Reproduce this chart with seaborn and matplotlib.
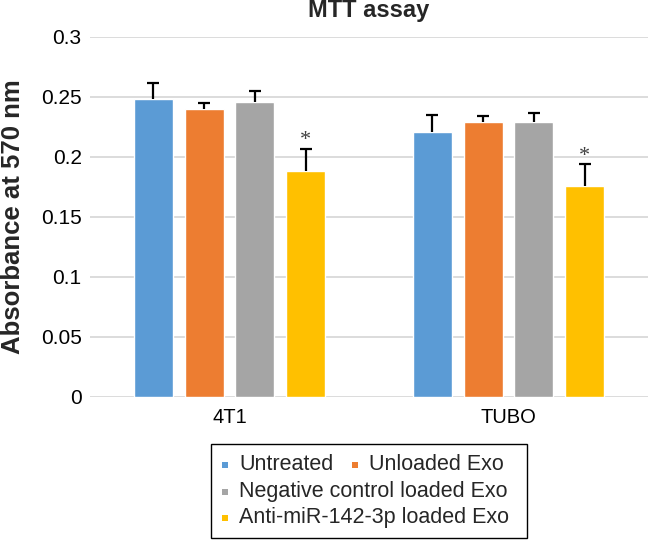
import matplotlib
matplotlib.use("Agg")
import matplotlib.pyplot as plt
import numpy as np
import pandas as pd
import seaborn as sns
from matplotlib.patches import Rectangle

cell_lines = ["4T1", "TUBO"]
treatments = ["Untreated", "Unloaded Exo", "Negative control loaded Exo", "Anti-miR-142-3p loaded Exo"]
colors = ["#5B9BD5", "#ED7D31", "#A5A5A5", "#FFC000"]

# absorbance means per treatment, order matches cell_lines
untreated = [0.248, 0.221]
unloaded = [0.240, 0.229]
neg_ctrl = [0.246, 0.229]
anti_mir = [0.188, 0.176]

# upper error (SD)
untreated_err = [0.014, 0.014]
unloaded_err = [0.005, 0.005]
neg_ctrl_err = [0.009, 0.008]
anti_mir_err = [0.019, 0.018]

significant = [False, False, False, True]

means = [untreated, unloaded, neg_ctrl, anti_mir]
errs = [untreated_err, unloaded_err, neg_ctrl_err, anti_mir_err]

rows = []
for t, vals in zip(treatments, means):
    for c, v in zip(cell_lines, vals):
        rows.append({"cell": c, "treatment": t, "absorbance": v})
df = pd.DataFrame(rows)

sns.set_theme(style="white")
plt.rcParams["font.family"] = ["Liberation Sans", "DejaVu Sans"]

fig = plt.figure(figsize=(6.5, 5.4), dpi=100)
ax = fig.add_axes([90 / 650, 1 - 397 / 540, 558 / 650, 360 / 540])

sns.barplot(data=df, x="cell", y="absorbance", hue="treatment", order=cell_lines,
            hue_order=treatments, palette=colors, width=0.73, gap=0.235,
            errorbar=None, saturation=1, ax=ax, legend=False)

# one-sided error bars (upper only), like the Excel chart
for bars, err, sig in zip(ax.containers, errs, significant):
    xs = np.array([b.get_x() + b.get_width() / 2 for b in bars])
    ys = np.array([b.get_height() for b in bars])
    tops = ys + np.array(err)
    ax.vlines(xs, ys, tops, color="black", linewidth=1.6, zorder=3)
    ax.scatter(xs, tops, marker="_", s=68, color="black", linewidths=1.6, zorder=3)
    if sig:
        for x, t in zip(xs, tops):
            ax.text(x, t + 0.003, "*", ha="center", va="baseline", fontsize=16,
                    color="#404040", family="Liberation Serif")

ax.set_ylim(0, 0.3)
ax.set_yticks(np.arange(0, 0.31, 0.05))
ax.set_yticklabels(["0", "0.05", "0.1", "0.15", "0.2", "0.25", "0.3"])
ax.set_xlim(-0.5, 1.5)
ax.yaxis.grid(True, color="#D9D9D9", linewidth=1.3)
ax.set_axisbelow(True)
for s in ax.spines.values():
    s.set_visible(False)
ax.tick_params(axis="both", length=0, colors="black")
ax.tick_params(axis="y", pad=6, labelsize=15)
ax.tick_params(axis="x", pad=8, labelsize=14.5)
ax.set_xlabel("")
ax.set_ylabel("Absorbance at 570 nm", fontsize=18.5, fontweight="bold")
ax.yaxis.set_label_coords(-0.117, 0.5)
fig.text(369 / 650, 1 - 17 / 540, "MTT assay", ha="center", va="baseline",
         fontsize=17, fontweight="bold")

# legend laid out like the Excel one: two entries on the first row
fig.patches.append(Rectangle((211 / 650, 1 - 538 / 540), 316 / 650, 94 / 540,
                             transform=fig.transFigure, fill=False, edgecolor="black",
                             linewidth=1.0))
entry_pos = [(225, 465), (355, 465), (225, 492), (225, 518)]
for (px, py), lab, col in zip(entry_pos, treatments, colors):
    fig.patches.append(Rectangle(((px - 3) / 650, 1 - (py + 3) / 540), 6 / 650, 6 / 540,
                                 transform=fig.transFigure, color=col, linewidth=0))
    fig.text((px + 14) / 650, 1 - py / 540, lab, ha="left", va="center", fontsize=15.5)

fig.savefig("out.png", dpi=100)
